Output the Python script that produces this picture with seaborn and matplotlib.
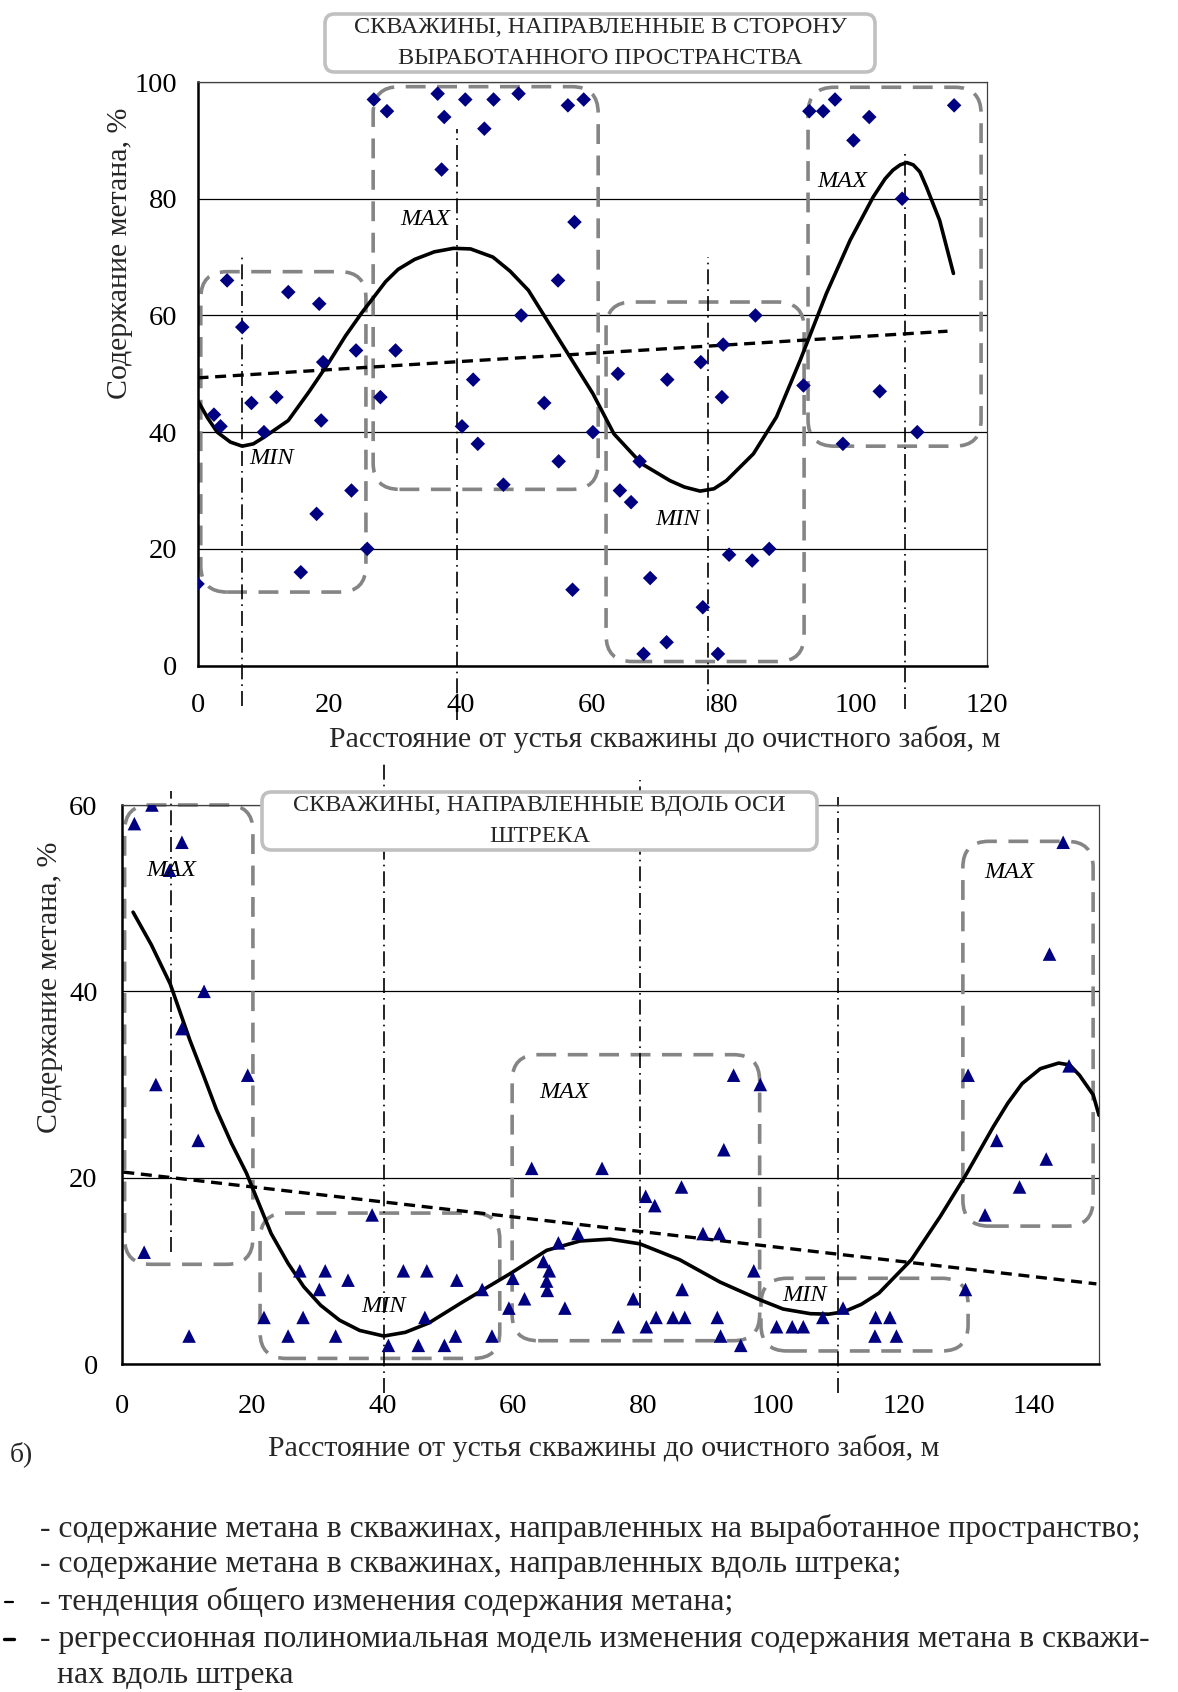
import matplotlib
matplotlib.use("Agg")
import matplotlib.pyplot as plt
from matplotlib.patches import FancyBboxPatch
from matplotlib.lines import Line2D
import seaborn as sns

# ---------- верхний график: скважины в сторону выработанного пространства ----------
top_x = [0, 2.5, 3.5, 4.5, 6.8, 8.2, 10.1, 12.0, 13.8, 15.7, 18.1, 18.5, 19.1, 18.8, 23.4,
         24.1, 25.8, 26.8, 27.8, 28.8, 30.1, 36.5, 37.1, 37.5, 40.2, 40.7, 41.9, 42.6, 43.6,
         45.0, 46.5, 48.8, 49.2, 52.7, 54.8, 54.9, 56.3, 57.0, 57.3, 58.7, 60.1, 63.9, 64.2,
         65.9, 67.2, 67.8, 68.8, 71.3, 71.4, 76.5, 76.8, 79.1, 79.7, 79.9, 80.8, 84.3, 84.8,
         86.9, 92.1, 93.0, 95.1, 96.9, 98.1, 99.7, 102.1, 103.7, 107.1, 109.4, 115.0]
top_y = [14, 43, 41, 66, 58, 45, 40, 46, 64, 16, 26, 62, 52, 42, 30,
         54, 20, 97, 46, 95, 54, 98, 85, 94, 41, 97, 49, 38, 92,
         97, 31, 98, 60, 45, 66, 35, 96, 13, 76, 97, 40, 50, 30,
         28, 35, 2, 15, 4, 49, 52, 10, 2, 46, 55, 19, 18, 60,
         20, 48, 95, 95, 97, 38, 90, 94, 47, 80, 40, 96]

top_curve_x = [0, 1.5, 3, 5, 6.8, 8.5, 10.2, 13.8, 17, 20, 22.5, 25, 28.6, 30.5, 33, 36, 38.9,
               41.5, 44.9, 47.5, 50.3, 55, 60.1, 63.3, 67.5, 71.8, 74, 76.4, 78.5, 80.4, 84.5,
               88, 91.6, 95.6, 99.2, 102.7, 104.5, 105.7, 106.8, 107.8, 108.8, 109.8, 110.8,
               112.8, 114.9]
top_curve_y = [45.5, 42.5, 40, 38.3, 37.6, 38.0, 39.2, 42, 47, 52, 56.5, 60.5, 65.8, 67.9,
               69.6, 70.9, 71.5, 71.4, 70, 67.6, 64.3, 55.8, 46.6, 39.7, 34.6, 31.7, 30.6,
               29.9, 30.3, 31.7, 36.3, 42.6, 52.3, 63.8, 72.9, 80.3, 83.4, 84.9, 85.8, 86.2,
               85.8, 84.6, 82, 76.3, 67.2]
top_trend_x = [0, 114]
top_trend_y = [49.3, 57.3]

top_ext_x = [6.8, 39.4, 77.6, 107.5]
top_ext_hi = [70, 92, 70, 88]
top_ext_lo = [-7, -9.4, -7.7, -7.4]
top_boxes = [(0.5, 25.6, 12.6, 67.5), (26.7, 60.9, 30.2, 99.2),
             (62.1, 92.2, 0.7, 62.3), (92.8, 119.1, 37.6, 99.1)]
top_marks = [("MIN", 11.3, 35.5), ("MAX", 34.6, 76.5), ("MIN", 73, 25), ("MAX", 98, 83)]

# ---------- нижний график: скважины вдоль оси штрека ----------
bot_x = [1.9, 4.6, 7.3, 9.2, 12.6, 9.2, 5.2, 19.3, 11.7, 3.4, 10.3,
         21.8, 25.5, 27.3, 27.8, 30.3, 31.2, 32.8, 34.7, 38.4, 40.9, 43.2, 45.5, 46.5, 46.8,
         49.5, 51.2, 51.4, 55.3, 56.8, 59.4, 60.0, 61.8, 62.9, 64.7, 65.6, 65.2, 65.3, 67.0,
         68.0, 70.0, 73.7, 76.2, 78.5, 80.4, 81.8, 80.5, 82.0, 84.6, 85.9, 86.0, 86.4, 89.2,
         91.7, 91.4, 91.9, 92.4, 93.9, 95.0, 97.0, 98.0, 100.5, 102.9, 104.6, 107.6, 110.7,
         115.7, 117.9, 115.6, 118.9, 129.5, 129.9, 132.5, 134.3, 137.8, 141.9, 142.4, 144.5, 145.4]
bot_y = [58, 60, 53, 56, 40, 36, 30, 31, 24, 12, 3,
         5, 3, 10, 5, 8, 10, 3, 9, 16, 2, 10, 2, 5, 10,
         2, 3, 9, 8, 3, 6, 9.2, 7, 21, 11, 10, 8.9, 7.9, 13,
         6, 14, 21, 4, 7, 18, 17, 4, 5, 5, 19, 8, 5, 14,
         14, 5, 3, 23, 31, 2, 10, 30, 4, 4, 4, 5, 6,
         5, 5, 3, 3, 8, 31, 16, 24, 19, 22, 44, 56, 32]

bot_curve_x = [1.7, 4.5, 7.4, 10.4, 12.5, 14.5, 16.8, 19.1, 22.9, 25.5, 27.9, 30.5, 33.4, 36.5,
               40.2, 43.5, 47.1, 52.4, 59.6, 65.2, 70.3, 74.9, 79.5, 85.6, 91.8, 97.9, 101.5,
               105.7, 108.5, 110.8, 113.5, 116.2, 121.2, 125.6, 129.4, 133.8, 136, 138.2, 141,
               143.8, 145.5, 147.0, 149.1, 150]
bot_curve_y = [48.5, 45.0, 40.8, 34.8, 31.0, 27.3, 23.7, 20.5, 14.0, 10.8, 8.3, 6.3, 4.7, 3.6,
               3.0, 3.4, 4.4, 6.7, 9.7, 12.2, 13.2, 13.4, 12.9, 11.2, 8.8, 6.9, 5.9,
               5.4, 5.35, 5.6, 6.4, 7.6, 11.2, 15.8, 20.1, 25.5, 28.0, 30.1, 31.7,
               32.3, 32.1, 31.0, 28.9, 26.7]
bot_trend_x = [0.2, 149.6]
bot_trend_y = [20.6, 8.6]

bot_ext_x = [7.5, 40.3, 79.6, 110.0]
bot_ext_hi = [61.5, 64.4, 62.7, 60.9]
bot_ext_lo = [12, -3.1, 6, -3.1]
bot_boxes = [(0.4, 20.1, 10.7, 60), (21.2, 58.0, 0.6, 16.2), (59.9, 97.9, 2.5, 33.2),
             (98.1, 129.9, 1.4, 9.2), (129.1, 149.1, 14.8, 56.1)]
bot_marks = [("MAX", 7.6, 53), ("MIN", 40.2, 6.2), ("MAX", 67.9, 29.1),
             ("MIN", 104.8, 7.3), ("MAX", 136.2, 52.8)]

xlabel = "Расстояние от устья скважины до очистного забоя, м"
ylabel = "Содержание метана, %"
title_top = "СКВАЖИНЫ, НАПРАВЛЕННЫЕ В СТОРОНУ\nВЫРАБОТАННОГО ПРОСТРАНСТВА"
title_bot = "СКВАЖИНЫ, НАПРАВЛЕННЫЕ ВДОЛЬ ОСИ\nШТРЕКА"
legend_lines = [
    "- содержание метана в скважинах, направленных на выработанное пространство;",
    "- содержание метана в скважинах, направленных вдоль штрека;",
    "- тенденция общего изменения содержания метана;",
    "- регрессионная полиномиальная модель изменения содержания метана в скважи-",
    "нах вдоль штрека",
]

sns.set_style("white")
plt.rcParams['font.family'] = ['Liberation Serif', 'DejaVu Serif']

NAVY = "#000080"
W, H = 1178, 1692
fig = plt.figure(figsize=(W / 100, H / 100), dpi=100)


def px_axes(left, right, top, bottom):
    return fig.add_axes([left / W, 1 - bottom / H, (right - left) / W, (bottom - top) / H])


ax1 = px_axes(197.5, 987, 82, 665.6)
ax2 = px_axes(122, 1099, 805, 1364)


def style_axes(ax, xmax, ymax, xpad, ypad):
    ax.set_xlim(0, xmax)
    ax.set_ylim(0, ymax)
    ax.set_xticks(range(0, xmax + 1 if xmax % 20 == 0 else xmax, 20))
    ax.set_yticks(range(0, ymax + 1, 20))
    ax.yaxis.grid(True, color="black", lw=0.9)
    ax.xaxis.grid(False)
    ax.set_axisbelow(True)
    for s in ("left", "bottom"):
        ax.spines[s].set_color("black")
        ax.spines[s].set_linewidth(1.8)
    for s in ("top", "right"):
        ax.spines[s].set_color("#404040")
        ax.spines[s].set_linewidth(0.9)
    ax.tick_params(direction="out", length=5.5, width=1.6, color="black",
                   labelsize=20.5, labelcolor="black")
    ax.tick_params(axis="x", pad=xpad)
    ax.tick_params(axis="y", pad=ypad)
    ax.set_xlabel("")
    ax.set_ylabel("")


def draw_panel(ax, xs, ys, marker, size, cx, cy, tx, ty, ext_x, ext_lo, ext_hi, boxes, marks):
    # прямоугольники зон MAX / MIN
    p0 = ax.transData.transform((0, 0))
    p1 = ax.transData.transform((1, 1))
    aspect = (p1[0] - p0[0]) / (p1[1] - p0[1])
    for x0, x1, y0, y1 in boxes:
        ax.add_patch(FancyBboxPatch((x0, y0), x1 - x0, y1 - y0,
                                    boxstyle="round,pad=0,rounding_size=4",
                                    mutation_aspect=aspect, fill=False,
                                    ec="#858585", lw=2.6, ls=(0, (5.5, 3.2)),
                                    clip_on=False, zorder=2))
    ax.vlines(ext_x, ext_lo, ext_hi, colors="black", lw=1.2,
              linestyles=[(0, (9, 3, 1, 3))], clip_on=False, zorder=2)
    sns.lineplot(x=tx, y=ty, ax=ax, color="black", lw=2.4, estimator=None,
                 sort=False, linestyle=(0, (3.3, 2.0)), zorder=3)
    sns.lineplot(x=cx, y=cy, ax=ax, color="black", lw=2.6, estimator=None,
                 sort=False, zorder=3, solid_joinstyle="round", solid_capstyle="round")
    sns.scatterplot(x=xs, y=ys, ax=ax, marker=marker, s=size, color=NAVY,
                    edgecolor="none", linewidth=0, zorder=4)
    for txt, x, y in marks:
        ax.text(x, y, txt, fontsize=17.5, fontstyle="italic", ha="center", va="center",
                color="black", zorder=5)


ax1.set_xlim(0, 120)
ax1.set_ylim(0, 100)
ax2.set_xlim(0, 150)
ax2.set_ylim(0, 60)

draw_panel(ax1, top_x, top_y, "D", 55, top_curve_x, top_curve_y, top_trend_x, top_trend_y,
           top_ext_x, top_ext_lo, top_ext_hi, top_boxes, top_marks)
draw_panel(ax2, bot_x, bot_y, "^", 95, bot_curve_x, bot_curve_y, bot_trend_x, bot_trend_y,
           bot_ext_x, bot_ext_lo, bot_ext_hi, bot_boxes, bot_marks)

style_axes(ax1, 120, 100, 14, 9)
style_axes(ax2, 150, 60, 16, 12)

for ax, lx, ly, yx, yy in ((ax1, 0.592, -0.126, -0.098, 0.706),
                           (ax2, 0.493, -0.150, -0.074, 0.674)):
    ax.text(lx, ly, xlabel, transform=ax.transAxes, ha="center", va="center", fontsize=21.5)
    ax.text(yx, yy, ylabel, transform=ax.transAxes, ha="center", va="center",
            rotation=90, fontsize=21.5)


def title_box(left, right, top, bottom, text):
    fig.add_artist(FancyBboxPatch((left / W, 1 - bottom / H), (right - left) / W,
                                  (bottom - top) / H, transform=fig.transFigure,
                                  boxstyle="round,pad=0,rounding_size=0.008",
                                  mutation_aspect=W / H, fc="white", ec="#c0c0c0",
                                  lw=2.6, zorder=10))
    fig.text((left + right) / 2 / W, 1 - (top + bottom) / 2 / H, text, ha="center",
             va="center", fontsize=17.4, linespacing=1.62, zorder=11)


title_box(325, 875, 14, 72, title_top)
title_box(262, 817, 792, 850, title_bot)

fig.text(10 / W, 1 - 1454 / H, "б)", fontsize=20, ha="left", va="center")

leg_y = [1529, 1564, 1602, 1639, 1675]
leg_x = [40, 40, 40, 40, 57]
for txt, x, y in zip(legend_lines, leg_x, leg_y):
    fig.text(x / W, 1 - y / H, txt, fontsize=22.8, ha="left", va="center")
fig.add_artist(Line2D([5 / W, 13 / W], [1 - 1602 / H] * 2, color="black", lw=1.6,
                      transform=fig.transFigure))
fig.add_artist(Line2D([4 / W, 14 / W], [1 - 1639 / H] * 2, color="black", lw=2.4,
                      transform=fig.transFigure))

fig.savefig("out.png", dpi=100)
